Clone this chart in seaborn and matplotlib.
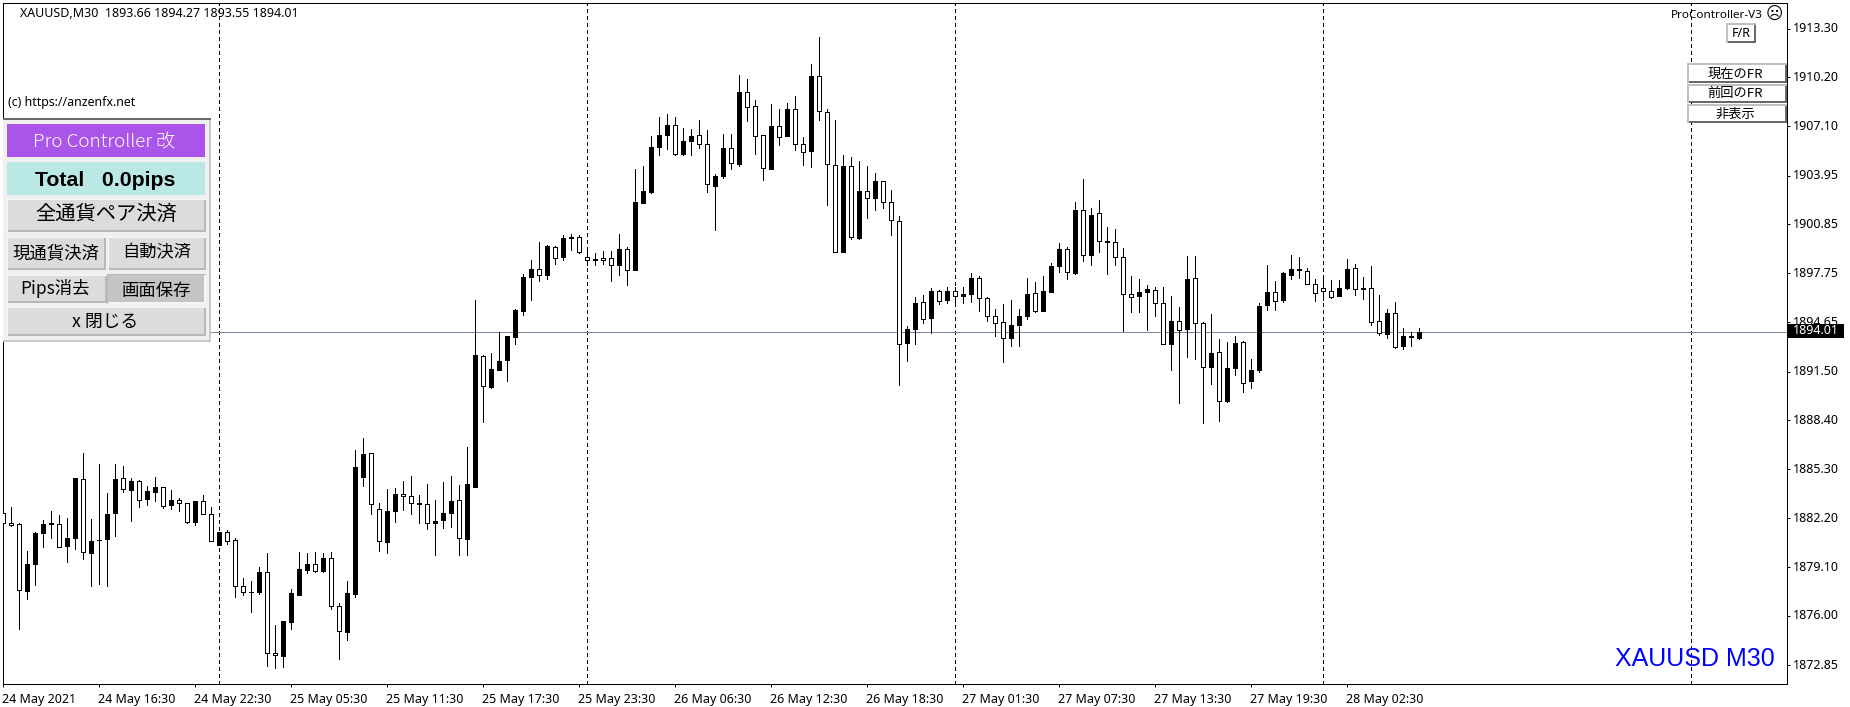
import matplotlib
matplotlib.use("Agg")
import matplotlib.pyplot as plt
from matplotlib.patches import Rectangle
from matplotlib.transforms import ScaledTranslation
import numpy as np
import pandas as pd
import seaborn as sns

# ---------- data (XAUUSD M30, prices) ----------
opens = [
1882.55,1881.91,1881.79,1877.57,1879.29,1881.26,1881.91,1881.79,1880.43,1880.94,
1884.71,1879.99,1880.81,1880.88,1882.53,1884.77,1883.99,1884.52,1883.42,1883.88,
1884.20,1883.03,1883.35,1883.18,1881.96,1883.25,1882.48,1880.50,1881.28,1880.83,
1877.85,1877.47,1877.51,1878.80,1873.60,1873.45,1875.61,1877.32,1878.91,1879.31,
1878.84,1879.63,1876.64,1874.97,1877.38,1884.81,1886.36,1882.80,1880.69,1882.65,
1883.75,1883.63,1883.10,1883.12,1881.91,1882.08,1882.53,1883.37,1880.88,1884.18,
1892.52,1890.53,1891.61,1892.24,1893.70,1895.35,1897.51,1898.04,1897.64,1899.44,
1898.78,1899.99,1900.07,1898.80,1898.59,1898.72,1898.72,1898.28,1899.31,1897.96,
1902.21,1902.89,1905.77,1906.53,1907.19,1905.32,1906.15,1906.55,1905.98,1903.29,
1903.93,1905.73,1904.69,1909.28,1908.39,1906.55,1904.37,1907.12,1906.47,1908.20,
1905.98,1905.51,1910.30,1908.01,1904.65,1899.10,1904.58,1899.97,1903.00,1902.53,
1903.62,1902.29,1901.08,1893.32,1894.21,1895.94,1894.90,1896.64,1896.05,1896.64,
1896.30,1896.43,1897.47,1896.20,1895.05,1894.67,1893.63,1894.46,1895.03,1896.51,
1895.35,1896.58,1898.21,1899.31,1897.74,1901.78,1898.90,1901.59,1899.77,1899.75,
1898.80,1896.45,1896.32,1896.56,1896.70,1895.88,1893.25,1894.74,1894.21,1897.47,
1894.61,1891.79,1892.77,1889.61,1891.73,1893.40,1890.90,1891.58,1895.73,1896.58,
1896.03,1897.63,1897.95,1897.89,1897.06,1896.81,1896.62,1896.30,1896.81,1898.10,
1896.75,1896.83,1894.71,1893.89,1895.24,1893.13,1893.72,1893.66]
highs = [
1883.12,1882.89,1881.91,1880.09,1881.28,1882.06,1882.63,1882.38,1882.19,1884.73,
1886.32,1882.12,1885.62,1883.78,1885.62,1885.49,1884.77,1884.64,1884.26,1884.79,
1884.20,1884.01,1883.44,1883.18,1883.25,1883.69,1882.93,1881.34,1881.43,1880.96,
1878.36,1878.17,1879.06,1879.97,1875.39,1875.63,1877.66,1880.03,1879.97,1880.03,
1879.97,1880.03,1876.83,1878.19,1886.51,1887.27,1886.36,1883.18,1884.03,1884.09,
1884.54,1884.85,1883.65,1884.35,1883.33,1884.47,1884.85,1884.28,1886.70,1896.03,
1892.58,1892.67,1894.00,1893.79,1895.46,1897.73,1898.57,1899.71,1899.52,1899.50,
1900.16,1900.27,1900.20,1899.42,1899.06,1899.14,1899.14,1900.22,1899.44,1904.35,
1904.54,1906.44,1907.65,1907.84,1907.65,1906.95,1906.89,1907.46,1906.83,1904.03,
1906.57,1906.57,1910.32,1910.06,1908.73,1906.55,1908.48,1908.16,1908.54,1908.98,
1906.38,1911.02,1912.79,1908.16,1907.46,1905.24,1905.11,1904.86,1904.54,1904.10,
1903.62,1903.05,1901.36,1894.42,1896.22,1896.34,1896.79,1896.70,1896.85,1896.85,
1896.85,1897.74,1897.59,1896.22,1895.50,1895.81,1896.03,1895.45,1897.42,1897.17,
1897.55,1898.38,1899.65,1899.41,1902.25,1903.71,1901.87,1902.38,1900.66,1900.53,
1899.33,1897.55,1897.36,1896.98,1896.85,1896.85,1896.28,1895.58,1898.82,1898.82,
1894.67,1895.18,1893.55,1893.36,1893.78,1893.47,1892.28,1895.88,1898.25,1897.23,
1897.80,1898.88,1898.76,1898.06,1897.36,1897.51,1897.30,1897.30,1898.63,1898.31,
1897.49,1898.18,1896.34,1895.45,1895.90,1894.25,1893.99,1894.27]
lows = [
1881.57,1881.70,1875.16,1877.07,1877.96,1880.37,1880.94,1880.37,1879.42,1880.24,
1879.61,1877.89,1878.02,1877.89,1881.05,1883.86,1882.02,1882.91,1883.03,1883.29,
1882.84,1882.78,1882.65,1881.89,1881.76,1882.46,1880.75,1880.50,1880.56,1877.19,
1877.32,1876.24,1877.38,1872.81,1872.69,1872.75,1875.16,1877.32,1878.72,1878.78,
1878.78,1876.43,1873.26,1874.46,1877.19,1884.24,1882.46,1880.11,1879.99,1881.96,
1882.72,1882.46,1881.89,1881.51,1879.86,1881.57,1881.64,1879.86,1879.86,1884.18,
1888.31,1890.47,1891.61,1890.91,1893.26,1895.10,1896.05,1897.26,1897.39,1898.34,
1898.59,1899.23,1899.04,1898.28,1898.28,1898.34,1897.26,1897.64,1897.01,1897.96,
1902.21,1902.85,1905.26,1905.64,1905.26,1905.26,1905.26,1905.68,1902.89,1900.48,
1903.80,1904.37,1904.56,1907.40,1905.30,1903.65,1904.37,1905.87,1906.47,1905.56,
1904.60,1904.48,1907.46,1902.06,1899.12,1899.10,1899.93,1899.95,1901.24,1901.75,
1901.87,1900.17,1890.63,1892.17,1893.25,1894.59,1893.95,1895.79,1895.86,1895.71,
1895.86,1895.92,1895.35,1894.71,1893.76,1892.11,1893.13,1893.13,1894.82,1895.29,
1895.35,1896.53,1897.83,1897.38,1897.70,1898.50,1898.25,1899.07,1897.68,1898.25,
1894.06,1895.26,1895.26,1894.12,1895.01,1893.27,1891.58,1889.49,1892.41,1892.28,
1888.22,1890.69,1888.34,1889.57,1891.26,1890.19,1890.44,1891.45,1895.39,1895.39,
1895.90,1897.36,1897.42,1897.04,1895.96,1896.03,1896.15,1896.28,1896.72,1896.34,
1896.09,1894.44,1893.80,1893.61,1893.02,1892.92,1893.11,1893.55]
closes = [
1881.91,1881.76,1877.60,1879.31,1881.24,1881.85,1881.79,1880.39,1880.90,1884.73,
1880.01,1880.77,1880.83,1882.48,1884.71,1884.07,1884.58,1883.37,1883.94,1884.20,
1882.97,1883.37,1883.18,1881.96,1883.25,1882.48,1880.77,1881.34,1880.77,1877.85,
1877.47,1877.53,1878.74,1873.60,1873.47,1875.63,1877.41,1878.93,1879.31,1878.84,
1879.63,1876.62,1874.99,1877.41,1885.41,1886.29,1883.10,1880.77,1882.67,1883.75,
1883.61,1883.18,1883.18,1881.91,1882.04,1882.55,1883.31,1880.94,1884.33,1892.54,
1890.61,1891.69,1892.20,1893.75,1895.40,1897.53,1898.04,1897.66,1899.50,1898.74,
1900.01,1900.07,1899.10,1898.59,1898.68,1898.61,1898.28,1899.31,1897.98,1902.25,
1903.00,1905.79,1906.55,1907.19,1905.34,1906.17,1906.49,1905.98,1903.44,1903.95,
1905.73,1904.77,1909.28,1908.33,1906.49,1904.46,1907.12,1906.42,1908.20,1905.98,
1905.47,1910.30,1908.07,1904.71,1899.12,1904.58,1900.07,1903.00,1902.55,1903.63,
1902.27,1901.15,1893.27,1894.23,1895.88,1894.86,1896.64,1896.00,1896.64,1896.32,
1896.45,1897.47,1896.20,1895.05,1894.61,1893.66,1894.48,1895.05,1896.45,1895.35,
1896.64,1898.23,1899.31,1897.85,1901.78,1898.93,1901.47,1899.81,1899.73,1898.80,
1896.45,1896.26,1896.58,1896.77,1895.88,1893.27,1894.74,1894.16,1897.40,1894.61,
1891.81,1892.70,1889.66,1891.75,1893.34,1890.80,1891.62,1895.69,1896.58,1896.00,
1897.78,1898.04,1898.04,1897.08,1896.51,1896.64,1896.24,1896.83,1898.04,1896.77,
1896.83,1894.67,1893.95,1895.24,1893.06,1893.78,1893.78,1894.01]
price_ticks = [1913.30,1910.20,1907.10,1903.95,1900.85,1897.75,1894.65,1891.50,
               1888.40,1885.30,1882.20,1879.10,1876.00,1872.85]
time_tick_bars = [0,12,24,36,48,60,72,84,96,108,120,132,144,156,168]
time_labels = ["24 May 2021","24 May 16:30","24 May 22:30","25 May 05:30","25 May 11:30",
               "25 May 17:30","25 May 23:30","26 May 06:30","26 May 12:30","26 May 18:30",
               "27 May 01:30","27 May 07:30","27 May 13:30","27 May 19:30","28 May 02:30"]
separator_bars = [27,73,119,165,211]
last_price = 1894.01

# ---------- frames ----------
n = min(len(opens), len(highs), len(lows), len(closes))
df = pd.DataFrame({"bar": np.arange(n), "open": opens[:n], "high": highs[:n],
                   "low": lows[:n], "close": closes[:n]})
wicks = df.melt(id_vars="bar", value_vars=["high", "low"], value_name="price")

# ---------- figure ----------
sns.set_theme(style="white")
UI = "Noto Sans"
JP = ["Noto Sans CJK JP", "DejaVu Sans"]
plt.rcParams["font.family"] = [UI, "DejaVu Sans"]
W, H = 1850, 707
fig = plt.figure(figsize=(W / 100, H / 100), dpi=100, facecolor="white")
L, R, T, B = 2.5, 1786.5, 2.5, 683.5
ax = fig.add_axes([L / W, 1 - B / H, (R - L) / W, (B - T) / H])
PX = 0.72
SCALE = 15.74
X0 = 2.7  # pixel column of the first bar
ax.set_xlim((L - X0) / 8, (R - X0) / 8)
ax.set_ylim(1913.30 - (B - 28.5) / SCALE, 1913.30 + (28.5 - T) / SCALE)
ax.set_facecolor("white")

for b in separator_bars:
    ax.axvline(b, color="black", lw=PX, dashes=(3, 3), zorder=1, antialiased=False)
ax.axhline(last_price, color="#778899", lw=PX, zorder=1.5, antialiased=False)

sns.lineplot(data=wicks, x="bar", y="price", units="bar", estimator=None, color="black",
             linewidth=PX, legend=False, ax=ax, zorder=2, antialiased=False,
             solid_capstyle="butt")
up = df["close"] >= df["open"]
ax.bar(df["bar"], (df["close"] - df["open"]).abs(), bottom=df[["open", "close"]].min(axis=1),
       width=0.5, color=np.where(up, "black", "white"), edgecolor="black", linewidth=PX,
       zorder=3, antialiased=False)

ax.yaxis.tick_right()
ax.set_yticks(price_ticks, [f"{p:.2f}" for p in price_ticks])
ax.set_xticks(time_tick_bars, time_labels, ha="left")
ax.tick_params(axis="both", length=2.2, width=PX, color="black", labelsize=9, pad=3,
               labelcolor="black", bottom=True, right=True)
ax.tick_params(axis="x", pad=4.5)
for lab in ax.get_xticklabels():
    lab.set_transform(lab.get_transform() + ScaledTranslation(-0.8 / 100, 0, fig.dpi_scale_trans))
for lab in ax.get_yticklabels():
    lab.set_transform(lab.get_transform() + ScaledTranslation(-1 / 100, 1.2 / 100, fig.dpi_scale_trans))
ax.set_xlabel("")
ax.set_ylabel("")
for s in ax.spines.values():
    s.set_visible(True)
    s.set_color("black")
    s.set_linewidth(PX)

# ---------- pixel overlay for the on-chart widgets ----------
ov = fig.add_axes([0, 0, 1, 1], zorder=5)
ov.set_xlim(0, W)
ov.set_ylim(H, 0)
ov.axis("off")
ov.patch.set_alpha(0)


def rect(x0, y0, x1, y1, c):
    ov.add_patch(Rectangle((x0, y0), x1 - x0, y1 - y0, facecolor=c, edgecolor="none", antialiased=False))


def button(x0, y0, x1, y1, face, tl, br, w=2, t=2):
    rect(x0, y0, x1, y1, tl)
    rect(x0 + t, y0 + t, x1, y1, br)
    rect(x0 + t, y0 + t, x1 - w, y1 - w, face)


def label(x, y, s, size, family=JP, **kw):
    kw.setdefault("ha", "center")
    kw.setdefault("color", "black")
    ov.text(x, y, s, fontsize=size, family=family, va="center", **kw)


# left panel
rect(3, 118, 211, 342, "#c8c8c8")
rect(3, 120, 209, 340, "#f0f0f0")
rect(3, 118, 211, 120, "#696969")
rect(7, 124, 205, 157, "#ab54ea")
label(104.5, 142.5, "Pro Controller 改", 13.6, color="white", fontweight="light")
rect(7, 162, 205, 195, "#bae8e4")
label(105, 180.5, "Total   0.0pips", 15.3, family="Liberation Sans", fontweight="bold")
g, s_ = "#dcdcdc", "#b8b8b8"
button(7, 198.5, 206, 232, g, "#f5f5f5", s_, t=1)
label(106, 214.5, "全通貨ペア決済", 14.6)
button(7, 236.5, 106, 270, g, "#f5f5f5", s_, t=1)
label(55.5, 253, "現通貨決済", 12.5)
button(108, 236.5, 206, 270, g, "#f5f5f5", s_, t=1)
label(156.5, 252, "自動決済", 12.4)
button(7, 274.5, 107, 303, g, "#f5f5f5", s_, t=1)
label(55.5, 288, "Pips消去", 12.5)
button(107, 274, 206, 304, "#c4c4c4", "#b8b8b8", "#f5f5f5", t=1)
label(156.5, 291, "画面保存", 12.5)
button(7, 307, 206, 336, g, "#f5f5f5", s_, t=1)
label(105.5, 322, "x 閉じる", 12.8)

# header texts
label(20.5, 13.5, "XAUUSD,M30  1893.66 1894.27 1893.55 1894.01", 8.95, family=UI, ha="left")
label(7.5, 102.5, "(c) https://anzenfx.net", 8.9, family=UI, ha="left")

# right-hand widgets
label(1763, 15, "ProController-V3", 8.4, family=UI, ha="right")
label(1774, 14, "\u2639", 12, family="DejaVu Sans")
light, dark = "#c0c0c0", "#696969"
button(1726, 23, 1756, 43, "white", light, dark)
label(1741, 33.5, "F/R", 9, family=UI)
for (y0, y1, s, dy) in [(63, 82.5, "現在のFR", 2), (84, 103, "前回のFR", 0.5), (104, 123, "非表示", 1)]:
    button(1687, y0, 1786.5, y1, "white", light, dark)
    label(1735, (y0 + y1) / 2 - 0.5 + dy, s, 9.5)

# current price flag
rect(1788, 324, 1844, 338, "black")
label(1793, 331, "1894.01", 9, family=UI, ha="left", color="white")

# symbol caption
label(1775, 659, "XAUUSD M30", 18, family="Liberation Sans", ha="right", color="#0000ff")

fig.savefig("out.png", dpi=100, facecolor="white")
